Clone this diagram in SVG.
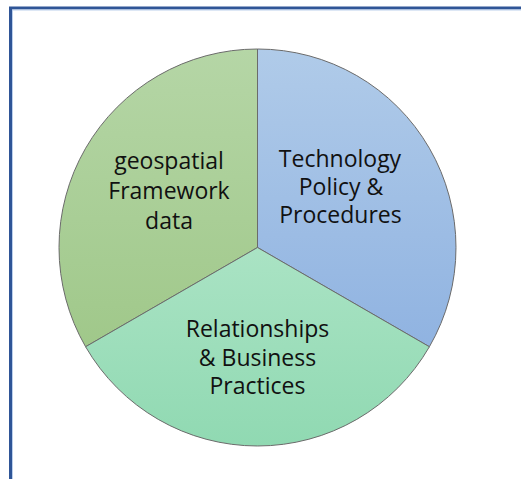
<svg xmlns="http://www.w3.org/2000/svg" width="521" height="479" viewBox="0 0 521 479">
<style>
.frame{fill:none;stroke:#2f5597;stroke-width:3}
.frame2{fill:none;stroke:#bcd0ec;stroke-width:1}
.slice{stroke:#6b6b6b;stroke-width:1;stroke-linejoin:round}
.lbl{font-family:"Open Sans","Liberation Sans",sans-serif;font-size:23px;fill:#111;text-anchor:middle}
</style>
<defs>
<linearGradient id="gGreen" x1="0" y1="0" x2="0" y2="1">
<stop offset="0" stop-color="#b5d6a6"/><stop offset="1" stop-color="#a0c88a"/>
</linearGradient>
<linearGradient id="gBlue" x1="0" y1="0" x2="0" y2="1">
<stop offset="0" stop-color="#b0cbe9"/><stop offset="1" stop-color="#90b3e1"/>
</linearGradient>
<linearGradient id="gTeal" x1="0" y1="0" x2="0" y2="1">
<stop offset="0" stop-color="#aae3c4"/><stop offset="1" stop-color="#90d9b2"/>
</linearGradient>
</defs>
<rect width="521" height="479" fill="#ffffff"/>
<path class="frame" d="M10.5 479 V8 H521"/>
<path class="frame2" d="M12.5 479 V10 H521"/>
<g id="framework">
<path class="slice" fill="url(#gGreen)" d="M257.5 247.5 L257.5 49 A198.5 198.5 0 0 0 85.6 346.75 Z"/>
<text class="lbl" x="169" y="169">geospatial</text>
<text class="lbl" x="169" y="199">Framework</text>
<text class="lbl" x="169" y="229">data</text>
</g>
<g id="technology">
<path class="slice" fill="url(#gBlue)" d="M257.5 247.5 L257.5 49 A198.5 198.5 0 0 1 429.4 346.75 Z"/>
<text class="lbl" x="340" y="167">Technology</text>
<text class="lbl" x="341" y="195">Policy &amp;</text>
<text class="lbl" x="340.5" y="223">Procedures</text>
</g>
<g id="relationships">
<path class="slice" fill="url(#gTeal)" d="M257.5 247.5 L429.4 346.75 A198.5 198.5 0 0 1 85.6 346.75 Z"/>
<text class="lbl" x="257.5" y="337">Relationships</text>
<text class="lbl" x="257.5" y="366">&amp; Business</text>
<text class="lbl" x="257.5" y="394">Practices</text>
</g>
<g id="connectors"></g>
</svg>
